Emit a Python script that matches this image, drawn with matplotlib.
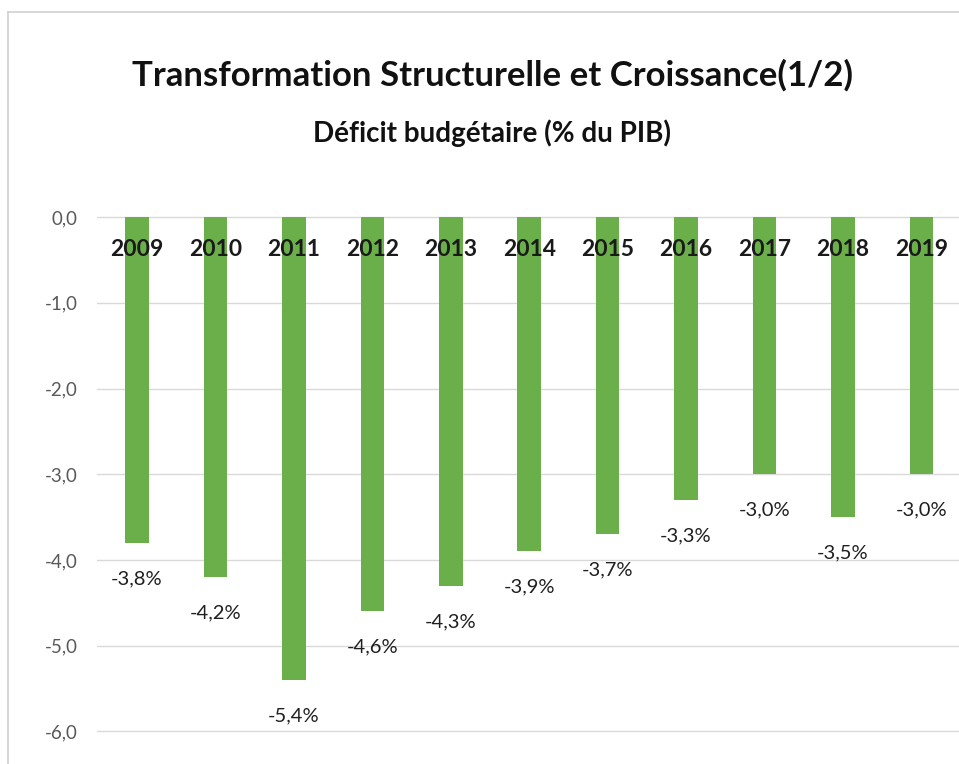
import matplotlib.pyplot as plt
from matplotlib.lines import Line2D

years = ["2009", "2010", "2011", "2012", "2013", "2014", "2015", "2016", "2017", "2018", "2019"]
deficit = [-3.8, -4.2, -5.4, -4.6, -4.3, -3.9, -3.7, -3.3, -3.0, -3.5, -3.0]
yticks = [0, -1, -2, -3, -4, -5, -6]

W, H = 959, 764
GREEN = "#6aaf4a"

plt.rcParams["font.family"] = ["Lato", "DejaVu Sans"]

fig = plt.figure(figsize=(W / 100, H / 100), dpi=100)
fig.patch.set_facecolor("white")

# axes placed in pixel terms: x 97..959, y 200..757
ax = fig.add_axes([97 / W, 1 - 757 / H, (959 - 97) / W, (757 - 200) / H])
ax.set_xlim(-0.51, 10.48)
ax.set_ylim(-6.3, 0.2)

x = list(range(len(years)))
ax.bar(x, deficit, width=0.3, color=GREEN, zorder=3)

for xi, v in zip(x, deficit):
    ax.text(xi, v - 0.42, f"{v:.1f}%".replace(".", ","), ha="center", va="center",
            fontsize=14.5, color="#1f1f1f", zorder=4)
    ax.text(xi, -0.38, years[xi], ha="center", va="center", fontsize=16.5,
            fontweight="bold", color="#1a1a1a", zorder=4)

ax.set_yticks(yticks)
ax.set_yticklabels([f"{t:.1f}".replace(".", ",") for t in yticks], fontsize=13.5, color="#595959")
ax.tick_params(axis="y", length=0, pad=14)
ax.set_xticks([])
ax.grid(axis="y", color="#d9d9d9", lw=1, zorder=0)
for s in ax.spines.values():
    s.set_visible(False)

fig.text(492 / W, 1 - 75 / H, "Transformation Structurelle et Croissance(1/2)",
         ha="center", va="center", fontsize=25, fontweight="bold", color="#111111")
fig.text(492 / W, 1 - 133 / H, "Déficit budgétaire (% du PIB)",
         ha="center", va="center", fontsize=20, fontweight="bold", color="#111111")

# faint frame lines at top and left
fig.add_artist(Line2D([8 / W, 1], [1 - 12 / H, 1 - 12 / H], color="#d0d0d0", lw=1.2))
fig.add_artist(Line2D([8 / W, 8 / W], [0, 1 - 12 / H], color="#d0d0d0", lw=1.2))

fig.savefig("out.png", dpi=100, facecolor="white")
